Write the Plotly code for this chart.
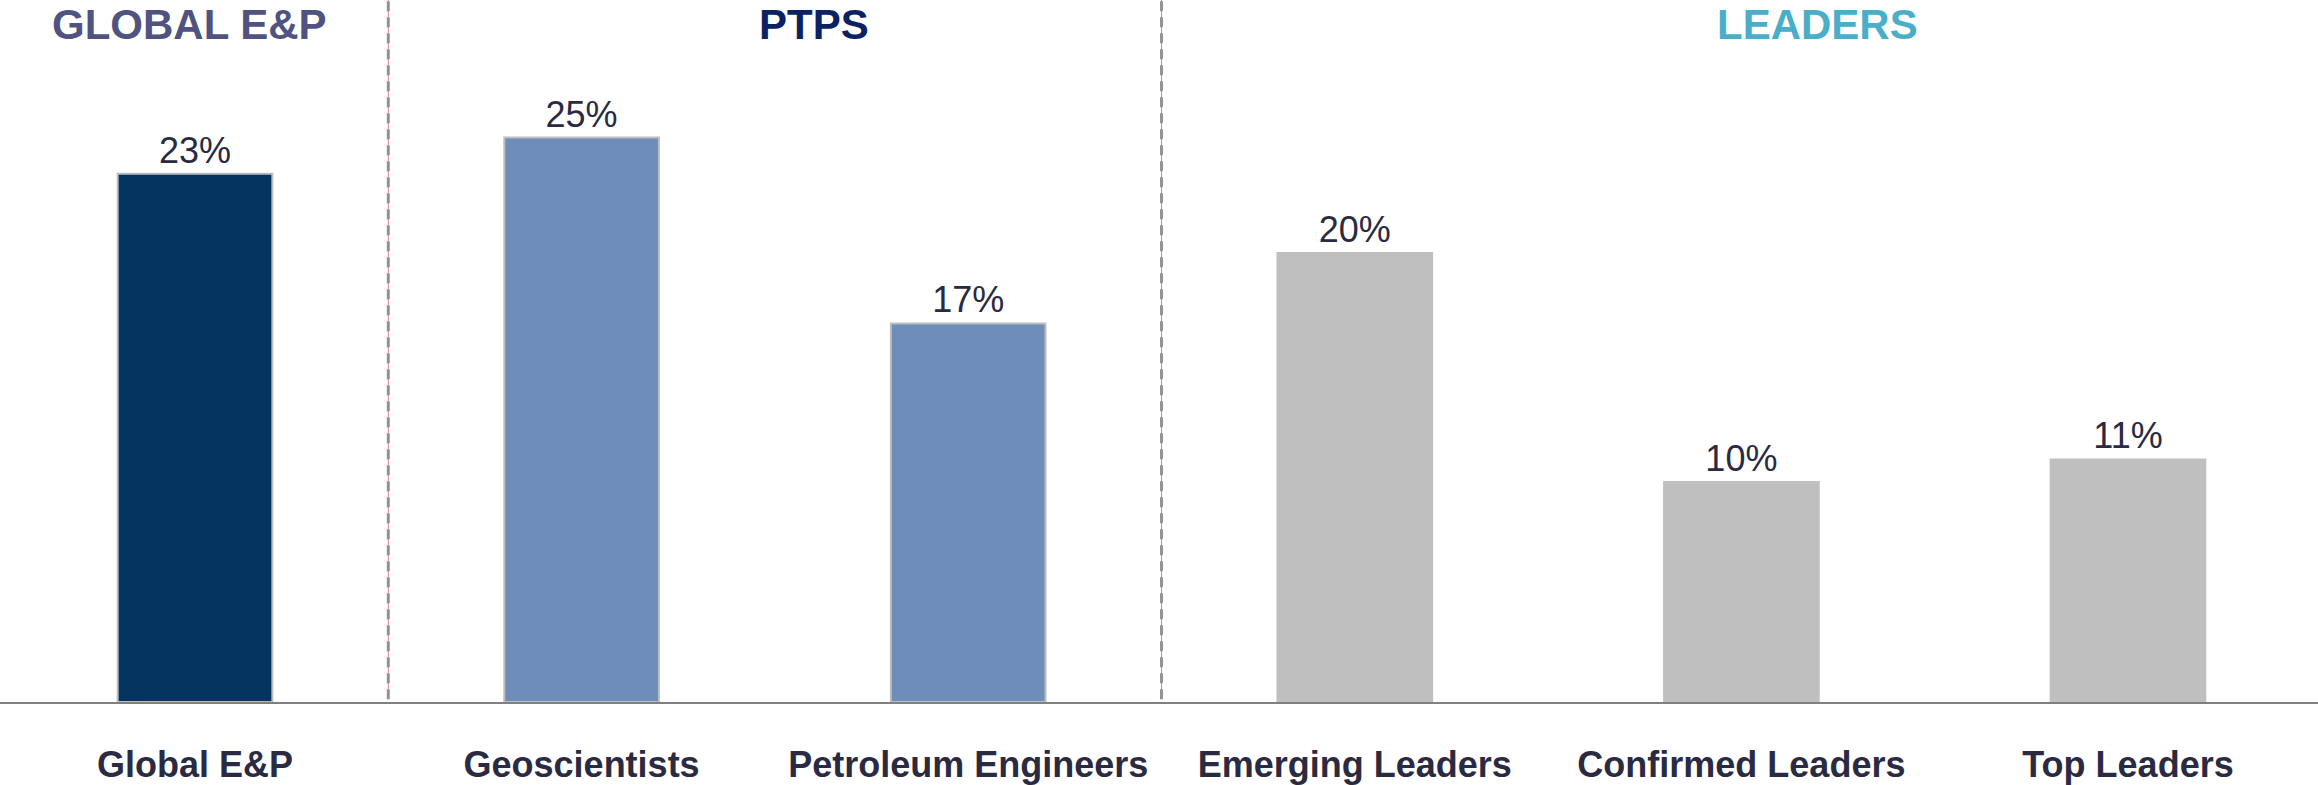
import plotly.graph_objects as go

categories = ["Global E&P", "Geoscientists", "Petroleum Engineers",
              "Emerging Leaders", "Confirmed Leaders", "Top Leaders"]
values = [23.3, 24.9, 16.7, 19.8, 9.7, 10.7]
bar_colors = ["#03335F", "#6E8DB8", "#6E8DB8", "#BFBFBF", "#BFBFBF", "#BFBFBF"]
border_colors = ["#BDBDBD", "#BDBDBD", "#BDBDBD", "#BFBFBF", "#BFBFBF", "#BFBFBF"]
group_titles = ["GLOBAL E&P", "PTPS", "LEADERS"]
group_colors = ["#50527F", "#0A2162", "#4BAEC8"]
group_x_px = [189, 814, 1817]   # centres in figure pixels
separators = [0.5, 2.5]

W, H = 2318, 785
ML, MR, MT, MB = 0, 0, 0, 79
PLOT_H = H - MT - MB
PX_PER_UNIT = 22.8

fig = go.Figure()
fig.add_trace(go.Bar(
    x=categories, y=values,
    marker=dict(color=bar_colors, line=dict(color=border_colors, width=2)),
    texttemplate="%{y:.0f}%", textposition="outside", cliponaxis=False,
    textfont=dict(family="Liberation Sans, Arial", size=36, color="#2A2A42"),
    hoverinfo="skip",
))

shapes = []
for s in separators:
    shapes.append(dict(type="line", xref="x", yref="paper", x0=s, x1=s, y0=0.004, y1=1,
                       line=dict(color="#EE8080", width=1)))
    shapes.append(dict(type="line", xref="x", yref="paper", x0=s, x1=s, y0=0.004, y1=1,
                       line=dict(color="#949494", width=3, dash="10px,6px")))

annotations = []
for t, c, px in zip(group_titles, group_colors, group_x_px):
    annotations.append(dict(
        text=f"<b>{t}</b>", xref="paper", yref="paper",
        x=(px - ML) / (W - ML - MR), y=1 - 25 / PLOT_H,
        xanchor="center", yanchor="middle", showarrow=False,
        font=dict(family="Liberation Sans, Arial", size=42, color=c),
    ))

fig.update_layout(
    width=W, height=H,
    margin=dict(l=ML, r=MR, t=MT, b=MB, pad=0),
    plot_bgcolor="white", paper_bgcolor="white",
    bargap=0.6, showlegend=False,
    shapes=shapes, annotations=annotations,
    xaxis=dict(range=[-0.5044, 5.4915], showline=True, linecolor="#808080", linewidth=2,
               ticks="", showgrid=False, zeroline=False,
               tickfont=dict(family="Liberation Sans, Arial", size=36, color="#2A2A42"),
               ticklabelstandoff=30),
    yaxis=dict(range=[0, PLOT_H / PX_PER_UNIT], visible=False, showgrid=False, zeroline=False),
)
fig.update_xaxes(tickvals=categories, ticktext=[f"<b>{c}</b>" for c in categories])

fig.write_html("out.html", config={"displayModeBar": False},
               post_script="document.body.style.margin='0';")
